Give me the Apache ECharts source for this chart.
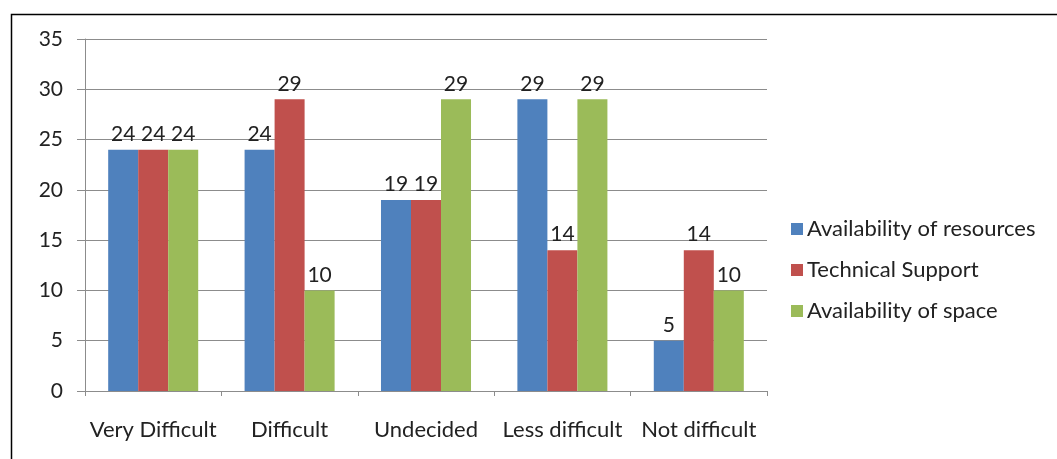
<!DOCTYPE html>
<html>
<head>
<meta charset="utf-8">
<script src="https://cdn.jsdelivr.net/npm/echarts@6/dist/echarts.min.js"></script>
<style>
  html, body { margin: 0; padding: 0; background: #fff; }
  #chart { width: 1057px; height: 459px; }
</style>
</head>
<body>
<div id="chart"></div>
<script>
// Difficulty ratings per factor
const categories = ['Very Difficult', 'Difficult', 'Undecided', 'Less difficult', 'Not difficult'];
const resources = [24, 24, 19, 29, 5];
const support = [24, 29, 19, 14, 14];
const space = [24, 10, 29, 29, 10];
const yTicks = [0, 5, 10, 15, 20, 25, 30, 35];

const FONT = 'Lato';
const FS = 21;
const TEXT = '#222222';
const GRID = '#8c8c8c';

const chart = echarts.init(document.getElementById('chart'), null, { renderer: 'canvas' });

function barSeries(name, data, color) {
  return {
    name: name,
    type: 'bar',
    data: data,
    barGap: '0%',
    barCategoryGap: '34%',
    itemStyle: { color: color },
    label: {
      show: true,
      position: 'top',
      distance: 5,
      color: TEXT,
      fontFamily: FONT,
      fontSize: FS
    }
  };
}

chart.setOption({
  animation: false,
  backgroundColor: '#fff',
  graphic: [{
    type: 'rect',
    left: 9,
    top: 12,
    shape: { width: 1100, height: 500 },
    style: { fill: 'none', stroke: '#000', lineWidth: 1.5 },
    silent: true
  }],
  grid: { left: 85, right: 290, top: 39, bottom: 68 },
  legend: {
    orient: 'vertical',
    left: 786,
    top: 213,
    itemWidth: 12,
    itemHeight: 12,
    itemGap: 19,
    icon: 'rect',
    textStyle: { color: TEXT, fontFamily: FONT, fontSize: 22, padding: [0, 0, 0, -1] },
    data: ['Availability of resources', 'Technical Support', 'Availability of space']
  },
  xAxis: {
    type: 'category',
    data: categories,
    axisLine: { lineStyle: { color: GRID, width: 1 } },
    axisTick: { show: true, alignWithLabel: false, length: 5, lineStyle: { color: GRID } },
    axisLabel: { interval: 0, color: TEXT, fontFamily: FONT, fontSize: 22, margin: 28 }
  },
  yAxis: {
    type: 'value',
    min: yTicks[0],
    max: yTicks[yTicks.length - 1],
    interval: yTicks[1] - yTicks[0],
    axisLine: { show: true, lineStyle: { color: GRID, width: 1 } },
    axisTick: { show: true, length: 8, lineStyle: { color: GRID } },
    axisLabel: { color: TEXT, fontFamily: FONT, fontSize: FS, margin: 22 },
    splitLine: { lineStyle: { color: GRID, width: 1 } }
  },
  series: [
    barSeries('Availability of resources', resources, '#4F81BD'),
    barSeries('Technical Support', support, '#C0504D'),
    barSeries('Availability of space', space, '#9BBB59')
  ]
});
</script>
</body>
</html>
